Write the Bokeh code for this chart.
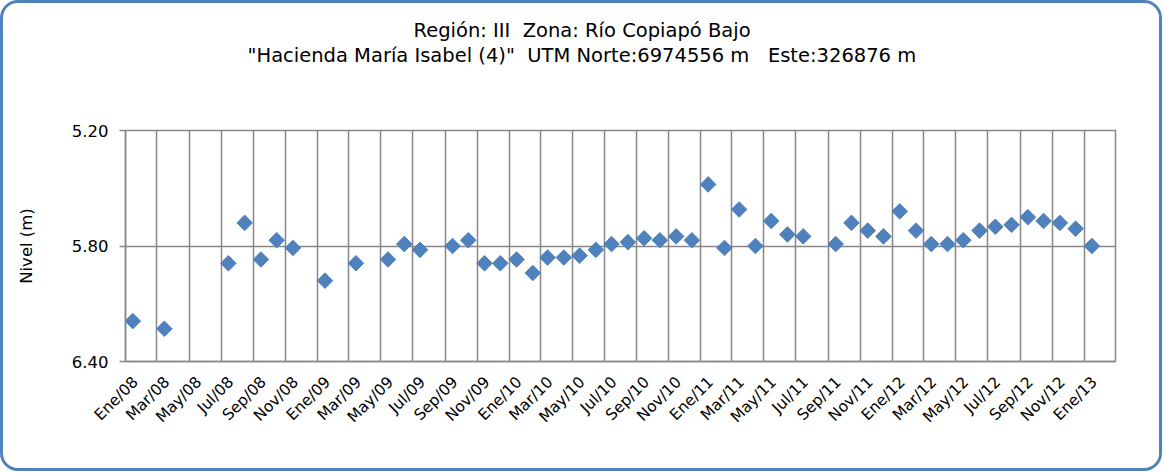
import pandas as pd
from math import pi
from bokeh.plotting import figure
from bokeh.models import Range1d, FixedTicker, Title, Grid
from bokeh.embed import file_html
from bokeh.resources import INLINE

# ---------------- data ----------------
fechas = [
    "2008-01-15", "2008-03-15", "2008-07-15", "2008-08-15", "2008-09-15", "2008-10-15", "2008-11-15",
    "2009-01-15", "2009-03-15", "2009-05-15", "2009-06-15", "2009-07-15", "2009-09-15", "2009-10-15",
    "2009-11-15", "2009-12-15",
    "2010-01-15", "2010-02-15", "2010-03-15", "2010-04-15", "2010-05-15", "2010-06-15", "2010-07-15",
    "2010-08-15", "2010-09-15", "2010-10-15", "2010-11-15", "2010-12-15",
    "2011-01-15", "2011-02-15", "2011-03-15", "2011-04-15", "2011-05-15", "2011-06-15", "2011-07-15",
    "2011-09-15", "2011-10-15", "2011-11-15", "2011-12-15",
    "2012-01-15", "2012-02-15", "2012-03-15", "2012-04-15", "2012-05-15", "2012-06-15", "2012-07-15",
    "2012-08-15", "2012-09-15", "2012-10-15", "2012-11-15", "2012-12-15",
    "2013-01-15",
]
nivel = [
    6.19, 6.23, 5.89, 5.68, 5.87, 5.77, 5.81,
    5.98, 5.89, 5.87, 5.79, 5.82, 5.80, 5.77,
    5.89, 5.89,
    5.87, 5.94, 5.86, 5.86, 5.85, 5.82, 5.79,
    5.78, 5.76, 5.77, 5.75, 5.77,
    5.48, 5.81, 5.61, 5.80, 5.67, 5.74, 5.75,
    5.79, 5.68, 5.72, 5.75,
    5.62, 5.72, 5.79, 5.79, 5.77, 5.72, 5.70,
    5.69, 5.65, 5.67, 5.68, 5.71,
    5.80,
]
tick_fechas = [
    "2008-01-01", "2008-03-01", "2008-05-01", "2008-07-01", "2008-09-01", "2008-11-01",
    "2009-01-01", "2009-03-01", "2009-05-01", "2009-07-01", "2009-09-01", "2009-11-01",
    "2010-01-01", "2010-03-01", "2010-05-01", "2010-07-01", "2010-09-01", "2010-11-01",
    "2011-01-01", "2011-03-01", "2011-05-01", "2011-07-01", "2011-09-01", "2011-11-01",
    "2012-01-01", "2012-03-01", "2012-05-01", "2012-07-01", "2012-09-01", "2012-11-01",
    "2013-01-01",
]
tick_labels = [
    "Ene/08", "Mar/08", "May/08", "Jul/08", "Sep/08", "Nov/08",
    "Ene/09", "Mar/09", "May/09", "Jul/09", "Sep/09", "Nov/09",
    "Ene/10", "Mar/10", "May/10", "Jul/10", "Sep/10", "Nov/10",
    "Ene/11", "Mar/11", "May/11", "Jul/11", "Sep/11", "Nov/11",
    "Ene/12", "Mar/12", "May/12", "Jul/12", "Sep/12", "Nov/12",
    "Ene/13",
]
x_inicio, x_fin = "2008-01-01", "2013-03-01"
y_ticks = [5.20, 5.80, 6.40]
y_tick_labels = ["5.20", "5.80", "6.40"]
titulo_1 = "Región: III\u00a0 Zona: Río Copiapó Bajo"
titulo_2 = "\"Hacienda María Isabel (4)\"\u00a0 UTM Norte:6974556 m\u00a0\u00a0 Este:326876 m"
y_titulo = "Nivel (m)"

# ---------------- figure ----------------
FONT = "DejaVu Sans"
GRID = "#878787"
BLUE = "#4F81BD"
LABEL_SHIFT = pd.Timedelta(days=19)   # slanted labels sit a little right of their gridline


def to_ms(t):
    return float((t - pd.Timestamp("1970-01-01")) // pd.Timedelta(milliseconds=1))


W, H = 1162, 471
p = figure(
    width=W, height=H, x_axis_type="datetime",
    x_range=Range1d(start=pd.Timestamp(x_inicio), end=pd.Timestamp(x_fin)),
    y_range=Range1d(start=y_ticks[-1], end=y_ticks[0]),
    output_backend="svg", toolbar_location=None,
    min_border_left=122, min_border_right=50, min_border_top=127, min_border_bottom=113,
)
p.styles = {"border": "3px solid " + BLUE, "border-radius": "18px", "overflow": "hidden",
            "background-color": "white"}
p.background_fill_color = "white"
p.border_fill_color = "white"
p.outline_line_color = GRID
p.outline_line_width = 1.5

grid_ms = [to_ms(pd.Timestamp(t)) for t in tick_fechas]
label_ms = [to_ms(pd.Timestamp(t) + LABEL_SHIFT) for t in tick_fechas]
p.xaxis.ticker = FixedTicker(ticks=label_ms)
p.xaxis.major_label_overrides = {ms: lab for ms, lab in zip(label_ms, tick_labels)}
p.xaxis.major_label_orientation = pi / 4
p.xaxis.major_tick_out = 0
p.xaxis.major_tick_in = 0
p.xaxis.minor_tick_out = 0
p.xaxis.minor_tick_in = 0
p.xaxis.major_label_standoff = 18
p.xaxis.major_label_text_font = FONT
p.xaxis.major_label_text_font_size = "15.5px"
p.xaxis.major_label_text_color = "black"
p.xaxis.axis_line_color = GRID
p.xaxis.axis_line_width = 1.5

p.yaxis.ticker = FixedTicker(ticks=y_ticks)
p.yaxis.major_label_overrides = {v: lab for v, lab in zip(y_ticks, y_tick_labels)}
p.yaxis.major_tick_out = 6
p.yaxis.major_tick_in = 0
p.yaxis.minor_tick_out = 0
p.yaxis.minor_tick_in = 0
p.yaxis.major_tick_line_color = GRID
p.yaxis.major_tick_line_width = 1.5
p.yaxis.major_label_standoff = 11
p.yaxis.major_label_text_font = FONT
p.yaxis.major_label_text_font_size = "16.5px"
p.yaxis.major_label_text_color = "black"
p.yaxis.axis_line_color = GRID
p.yaxis.axis_line_width = 1.5
p.yaxis.axis_label = y_titulo
p.yaxis.axis_label_text_font = FONT
p.yaxis.axis_label_text_font_size = "16.5px"
p.yaxis.axis_label_text_font_style = "normal"
p.yaxis.axis_label_text_color = "black"
p.yaxis.axis_label_standoff = 33

# vertical gridlines on the real month boundaries
p.xgrid.visible = False
p.add_layout(Grid(dimension=0, ticker=FixedTicker(ticks=grid_ms),
                  grid_line_color=GRID, grid_line_width=1.5))
p.ygrid.grid_line_color = GRID
p.ygrid.grid_line_width = 1.5

p.scatter(x=pd.to_datetime(fechas), y=nivel, marker="square", angle=pi / 4, size=11,
          fill_color=BLUE, line_color=BLUE)

# titles: spacer next to the frame, then line 2, then line 1
p.add_layout(Title(text=" ", text_font=FONT, text_font_size="19.5px", standoff=39,
                   text_color="white"), "above")
p.add_layout(Title(text=titulo_2, align="left", offset=122, standoff=0, text_font=FONT,
                   text_font_size="19.5px", text_font_style="normal", text_color="black"), "above")
p.add_layout(Title(text=titulo_1, align="left", offset=288, standoff=0, text_font=FONT,
                   text_font_size="19.5px", text_font_style="normal", text_color="black"), "above")

open("out.html", "w").write(file_html(p, INLINE))
